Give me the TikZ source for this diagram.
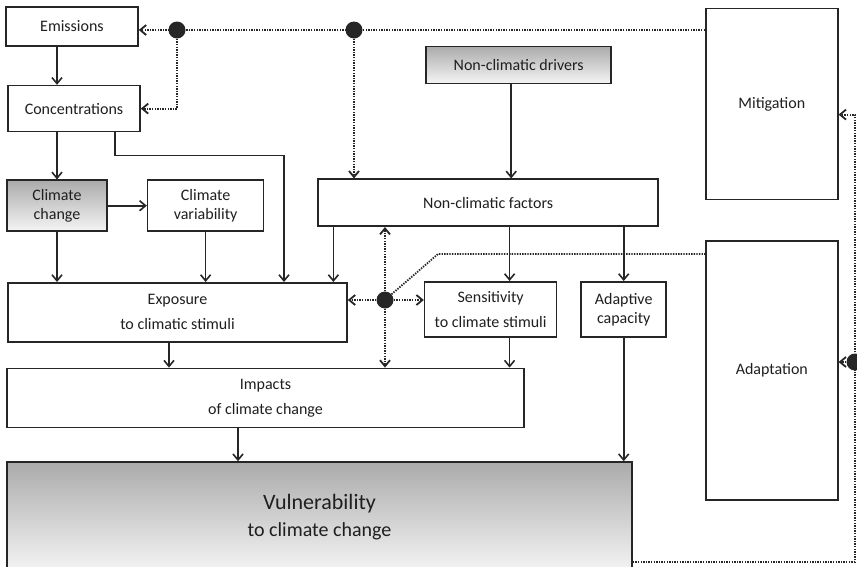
\documentclass[tikz,border=0pt]{standalone}
\usepackage{fontspec}
\setmainfont{Carlito}
\usetikzlibrary{positioning, arrows.meta}

\begin{document}
\begin{tikzpicture}[
  x=1pt, y=1pt,
  box/.style={rectangle, draw=black!85, line width=1.6pt, fill=white, text=black!88, align=center, inner sep=2pt, font=\fontsize{16}{19}\selectfont},
  shaded/.style={box, top color=black!33, bottom color=black!4},
  arr/.style={-{Straight Barb[length=6pt,width=10pt]}, line width=1.6pt, draw=black!85},
  dotarr/.style={arr, line width=1.8pt, dash pattern=on 1.4pt off 1.2pt},
  dotline/.style={line width=1.8pt, dash pattern=on 1.4pt off 1.2pt, draw=black!85},
  junction/.style={circle, fill=black!85, minimum size=17pt, inner sep=0pt}
]
\useasboundingbox (0,0) rectangle (857,-566);

% ======================
% CLIMATE CHAIN
% ======================
\node[box, minimum width=132pt, minimum height=39pt] (emissions) at (72,-26.5) {Emissions};

\node[box, minimum width=132pt, minimum height=46pt, below=38pt of emissions, xshift=2pt] (concentrations) {Concentrations};

\node[shaded, minimum width=100pt, minimum height=51pt, below=47pt of concentrations.south west, anchor=north west, xshift=-1pt] (climchange) {Climate\\change};

\node[box, minimum width=116pt, minimum height=51pt, right=39pt of climchange] (climvar) {Climate\\variability};

\node[box, minimum width=339pt, minimum height=59pt, below=50pt of climchange.south west, anchor=north west, xshift=1pt] (exposure) {Exposure\\[6pt]to climatic stimuli};

\node[box, minimum width=517pt, minimum height=59pt, below=25pt of exposure.south west, anchor=north west, xshift=-1pt] (impacts) {Impacts\\[6pt]of climate change};

\node[shaded, minimum width=625pt, minimum height=110pt, below=33pt of impacts.south west, anchor=north west] (vulnerability) {{\fontsize{22}{26}\selectfont Vulnerability}\\[8pt]{\fontsize{20}{24}\selectfont to climate change}};

% ======================
% NON-CLIMATIC SIDE
% ======================
\node[box, minimum width=340pt, minimum height=47pt, right=53pt of climvar.north east, anchor=north west, yshift=1pt] (ncfactors) {Non-climatic factors};

\node[shaded, minimum width=185pt, minimum height=37pt, above=94pt of ncfactors, xshift=30.5pt] (drivers) {Non-climatic drivers};

\node[box, minimum width=132pt, minimum height=55pt, right=76pt of exposure.north east, anchor=north west, yshift=1pt] (sensitivity) {Sensitivity\\[6pt]to climate stimuli};

\node[box, minimum width=85pt, minimum height=55pt, right=23pt of sensitivity] (adaptcap) {Adaptive\\capacity};

% ======================
% RESPONSES
% ======================
\node[box, minimum width=132pt, minimum height=191pt, right=93pt of drivers.north east, anchor=north west, yshift=38pt] (mitigation) {Mitigation};

\node[box, minimum width=132pt, minimum height=259pt, below=40pt of mitigation] (adaptation) {Adaptation};

% junctions
\node[junction] (j1) at (177,-30) {};
\node[junction] (j2) at (354,-30) {};
\node[junction] (j3) at (385,-300) {};
\node[junction] (j4) at (855,-362) {};
\coordinate (bend) at (438,-254);

% ======================
% SOLID LINKS
% ======================
\draw[arr] (emissions.south -| climchange) -- (concentrations.north -| climchange);
\draw[arr] (concentrations.south -| climchange) -- (climchange.north);
\draw[arr] (climchange.east) -- (climvar.west);
\draw[arr] (climchange.south) -- (climchange.south |- exposure.north);
\draw[arr] (climvar.south) -- (climvar.south |- exposure.north);
\draw[arr] ([xshift=41pt]concentrations.south) -- ++(0,-23) -| ([xshift=106.5pt]exposure.north);
\draw[arr] ([xshift=16pt]ncfactors.south west) -- ([xshift=16pt]ncfactors.south west |- exposure.north);
\draw[arr] ([xshift=-7.5pt]drivers.south) -- ([xshift=-7.5pt]drivers.south |- ncfactors.north);
\draw[arr] ([xshift=19pt]sensitivity.north |- ncfactors.south) -- ([xshift=19pt]sensitivity.north);
\draw[arr] (adaptcap.north |- ncfactors.south) -- (adaptcap.north);
\draw[arr] ([xshift=-8.5pt]exposure.south) -- ([xshift=-8.5pt]exposure.south |- impacts.north);
\draw[arr] ([xshift=19pt]sensitivity.south) -- ([xshift=19pt]sensitivity.south |- impacts.north);
\draw[arr] ([xshift=-27.5pt]impacts.south) -- ([xshift=-27.5pt]impacts.south |- vulnerability.north);
\draw[arr] (adaptcap.south) -- (adaptcap.south |- vulnerability.north);

% ======================
% DOTTED LINKS
% ======================
\draw[dotarr] (mitigation.west |- j2) -- (emissions.east |- j2);
\draw[dotarr] (j1) |- (concentrations.east);
\draw[dotarr] (j2) -- (j2 |- ncfactors.north);
\draw[dotarr] (j3) -- (j3 -| exposure.east);
\draw[dotarr] (j3) -- (j3 -| sensitivity.west);
\draw[dotarr] (j3) -- (j3 |- ncfactors.south);
\draw[dotarr] (j3) -- (j3 |- impacts.north);
\draw[dotline] (j3) -- (bend) -- (bend -| adaptation.west);
\draw[dotarr] ([yshift=11pt]vulnerability.south east) -| (j4.center) |- ([yshift=-10.5pt]mitigation.east);
\draw[dotarr] (j4) -- (j4 -| adaptation.east);

\end{tikzpicture}
\end{document}
